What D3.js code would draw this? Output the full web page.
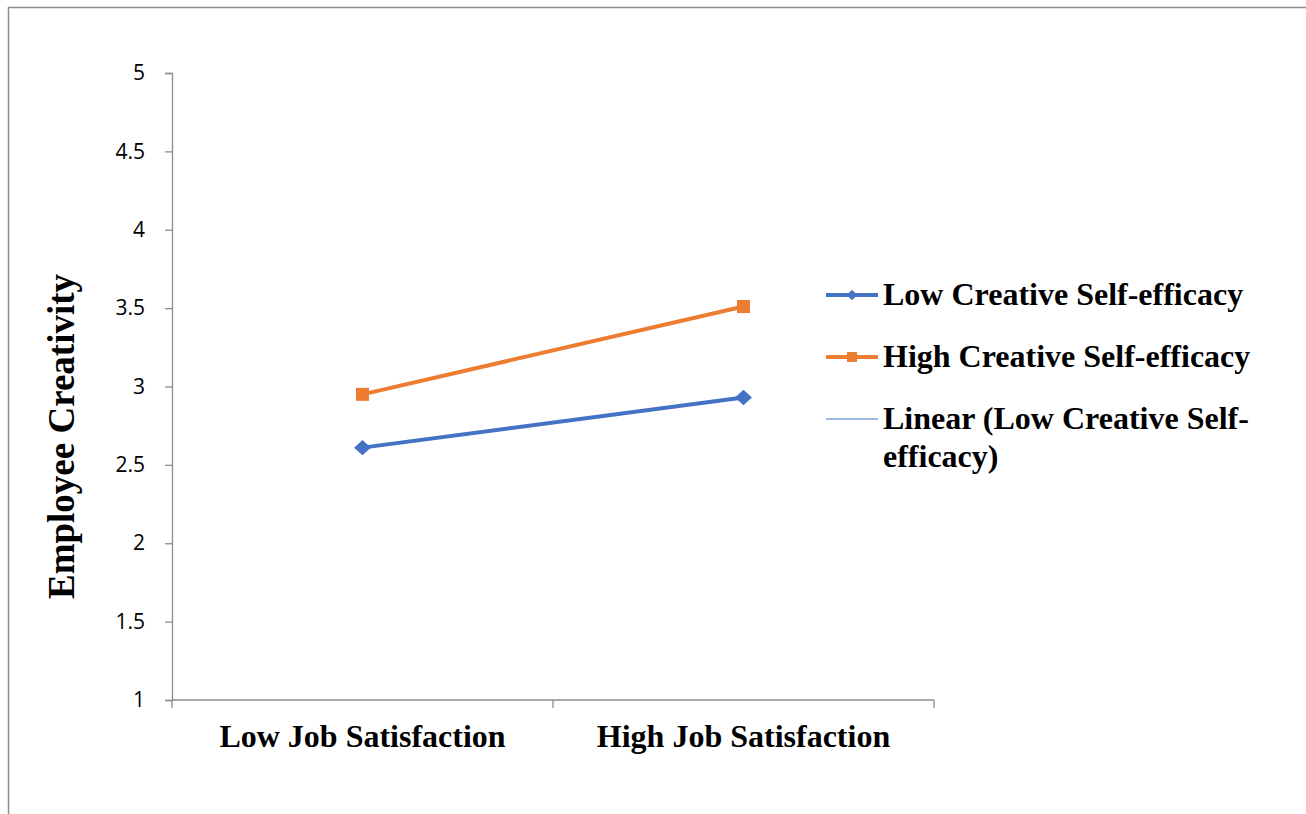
<!DOCTYPE html>
<html>
<head>
<meta charset="utf-8">
<script src="https://cdn.jsdelivr.net/npm/d3@7"></script>
<style>
  body { margin: 0; background: #fff; }
  svg { display: block; }
</style>
</head>
<body>
<svg id="chart"></svg>
<script>
// Data ----------------------------------------
const categories = ["Low Job Satisfaction", "High Job Satisfaction"];
const lowCSE = [2.61, 2.93];
const highCSE = [2.95, 3.51];
const yTicks = [1, 1.5, 2, 2.5, 3, 3.5, 4, 4.5, 5];
const seriesNames = ["Low Creative Self-efficacy", "High Creative Self-efficacy", "Linear (Low Creative Self-efficacy)"];

const W = 1306, H = 814;
const blue = "#4472C4", orange = "#ED7D31", axisGrey = "#8c8c8c";
const serif = "'Liberation Serif', 'Times New Roman', serif";

let svg = d3.select("#chart").attr("width", W).attr("height", H);

// outer chart border (right/bottom run off the page)
svg.append("rect")
    .attr("x", 8.5).attr("y", 7.5)
    .attr("width", W + 20).attr("height", H + 20)
    .attr("fill", "none").attr("stroke", axisGrey).attr("stroke-width", 1.5);

let margin = { top: 73, left: 172, right: 934, bottom: 700 };

let x = d3.scaleBand().domain(categories).range([margin.left, margin.right]);
let y = d3.scaleLinear().domain([1, 5]).range([margin.bottom, margin.top]);

// Y axis
let yAxis = svg.append("g")
    .attr("transform", `translate(${margin.left},0)`)
    .call(d3.axisLeft(y).tickValues(yTicks).tickSize(7).tickPadding(20).tickFormat(d3.format("")));
yAxis.select(".domain").attr("stroke", axisGrey).attr("stroke-width", 1.3);
yAxis.selectAll(".tick line").attr("stroke", axisGrey).attr("stroke-width", 1.3);
yAxis.selectAll("text")
    .attr("font-family", "'Open Sans', sans-serif")
    .attr("font-size", "21px")
    .attr("fill", "#000");

// X axis (ticks at band boundaries)
let xAxis = svg.append("g").attr("transform", `translate(0,${margin.bottom})`);
xAxis.append("line")
    .attr("x1", margin.left).attr("x2", margin.right)
    .attr("stroke", axisGrey).attr("stroke-width", 1.3);
const bounds = [margin.left].concat(categories.map(c => x(c) + x.bandwidth()));
xAxis.selectAll("line.tk").data(bounds).enter().append("line")
    .attr("class", "tk")
    .attr("x1", d => d).attr("x2", d => d)
    .attr("y1", 0).attr("y2", 8)
    .attr("stroke", axisGrey).attr("stroke-width", 1.3);
xAxis.selectAll("text").data(categories).enter().append("text")
    .attr("x", d => x(d) + x.bandwidth() / 2)
    .attr("y", 47)
    .attr("text-anchor", "middle")
    .attr("font-family", serif).attr("font-weight", "bold")
    .attr("font-size", "32px")
    .text(d => d);

// Y title
svg.append("text")
    .attr("transform", `translate(74,${(margin.top + margin.bottom) / 2 + 50}) rotate(-90)`)
    .attr("text-anchor", "middle")
    .attr("font-family", serif).attr("font-weight", "bold")
    .attr("font-size", "37px")
    .text("Employee Creativity");

const cx = (d, i) => x(categories[i]) + x.bandwidth() / 2;
let line = d3.line().x(cx).y(d => y(d));

// Linear trend of the low series
const n = lowCSE.length;
const xs = d3.range(n);
const mx = d3.mean(xs), my = d3.mean(lowCSE);
const slope = d3.sum(xs, (v, i) => (v - mx) * (lowCSE[i] - my)) / d3.sum(xs, v => (v - mx) ** 2);
const trend = xs.map(v => my + slope * (v - mx));

// trend sits under the data line
svg.append("path").datum(trend)
    .attr("d", line).attr("fill", "none")
    .attr("stroke", "#7fa0dc").attr("stroke-width", 1.5);
svg.append("path").datum(lowCSE)
    .attr("d", line).attr("fill", "none")
    .attr("stroke", blue).attr("stroke-width", 4);
svg.append("path").datum(highCSE)
    .attr("d", line).attr("fill", "none")
    .attr("stroke", orange).attr("stroke-width", 4);

// markers
svg.selectAll("path.dia").data(lowCSE).enter().append("path")
    .attr("class", "dia")
    .attr("d", d3.symbol(d3.symbolDiamond2, 150))
    .attr("transform", (d, i) => `translate(${cx(d, i)},${y(d)}) scale(1.1,1)`)
    .attr("fill", blue);
svg.selectAll("rect.sq").data(highCSE).enter().append("rect")
    .attr("class", "sq")
    .attr("x", (d, i) => cx(d, i) - 6.5).attr("y", d => y(d) - 6.5)
    .attr("width", 13).attr("height", 13)
    .attr("fill", orange);

// Legend
let legend = svg.append("g").attr("transform", "translate(826,0)");
const rowY = [295, 357, 419];
seriesNames.forEach((name, i) => {
    let g = legend.append("g").attr("transform", `translate(0,${rowY[i]})`);
    g.append("line").attr("x1", 0).attr("x2", 52)
        .attr("stroke", i === 1 ? orange : (i === 0 ? blue : "#7fa0dc"))
        .attr("stroke-width", i === 2 ? 1.5 : 4);
    if (i === 0) {
        g.append("path").attr("d", d3.symbol(d3.symbolDiamond2, 70))
            .attr("transform", "translate(26,0)").attr("fill", blue);
    } else if (i === 1) {
        g.append("rect").attr("x", 21).attr("y", -5).attr("width", 10).attr("height", 10).attr("fill", orange);
    }
    let t = g.append("text")
        .attr("x", 57).attr("y", 10)
        .attr("font-family", serif).attr("font-weight", "bold")
        .attr("font-size", "32px");
    if (i === 2) {
        t.append("tspan").attr("x", 57).text("Linear (Low Creative Self-");
        t.append("tspan").attr("x", 57).attr("dy", 38).text("efficacy)");
    } else {
        t.text(name);
    }
});
</script>
</body>
</html>
